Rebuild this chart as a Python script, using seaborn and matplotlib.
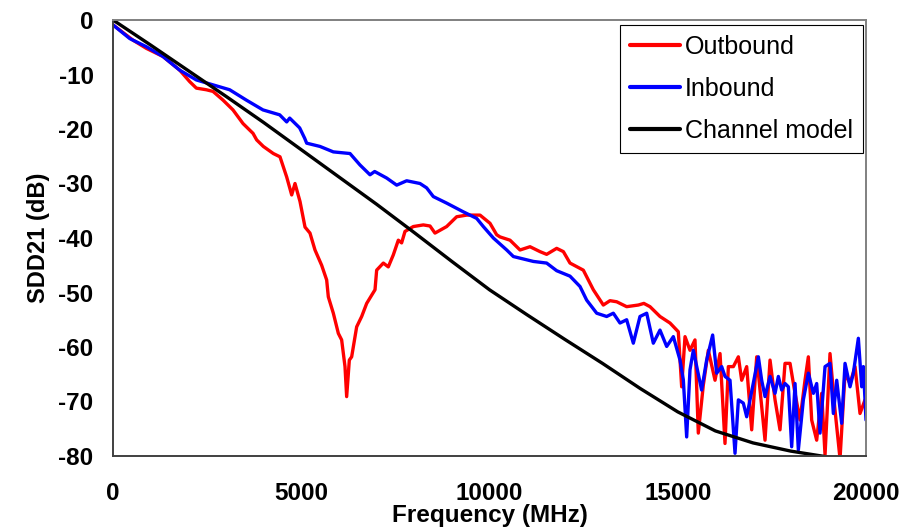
import numpy as np
import pandas as pd
import matplotlib
matplotlib.use("Agg")
import matplotlib.pyplot as plt
import seaborn as sns

# Measured differential insertion loss (SDD21) vs frequency
outbound_freq = [
    0, 531, 885, 1328, 1771, 2036, 2214, 2479, 2656, 2922, 3187, 3453, 3719,
    3816, 3993, 4258, 4435, 4613, 4746, 4834, 4967, 5100, 5232, 5365, 5542,
    5675, 5719, 5852, 5985, 6073, 6162, 6206, 6277, 6339, 6472, 6605, 6738,
    6870, 6959, 7003, 7180, 7312, 7445, 7578, 7666, 7755, 7976, 8242, 8420,
    8552, 8862, 9128, 9394, 9748, 10013, 10190, 10279, 10545, 10811, 11076,
    11341, 11518, 11784, 11962, 12138, 12492, 12758, 13023, 13200, 13378,
    13643, 13953, 14100, 14263, 14528, 14794, 15015, 15104, 15193, 15325,
    15458, 15546, 15679, 15812, 15990, 16123, 16255, 16344, 16477, 16610,
    16698, 16831, 16964, 17097, 17229, 17318, 17451, 17584, 17716, 17849,
    17982, 18115, 18247, 18380, 18469, 18557, 18690, 18823, 18912, 19044,
    19177, 19310, 19443, 19576, 19709, 19841, 19974,
]
outbound_db = [
    -0.9, -3.7, -5.2, -6.7, -9.2, -11.3, -12.5, -12.8, -13.1, -14.7, -16.5,
    -19.0, -20.8, -22.0, -23.2, -24.5, -25.1, -28.8, -32.1, -30.0, -33.3,
    -38.0, -39.1, -42.2, -45.0, -47.7, -50.8, -53.8, -57.5, -58.7, -63.6,
    -69.1, -62.4, -61.8, -56.3, -54.4, -52.0, -50.5, -49.5, -45.9, -44.6,
    -45.3, -43.1, -40.4, -40.9, -38.8, -37.9, -37.6, -37.8, -39.1, -37.9,
    -36.1, -35.8, -35.8, -37.3, -39.4, -39.8, -40.4, -42.2, -41.6, -42.5,
    -43.0, -41.9, -42.5, -44.6, -45.9, -49.5, -52.3, -51.5, -51.7, -52.6,
    -52.3, -52.0, -52.6, -54.4, -55.6, -57.2, -67.3, -58.1, -60.6, -58.7,
    -75.8, -67.0, -60.6, -66.1, -61.2, -77.7, -63.6, -63.6, -61.8, -66.1,
    -63.6, -75.2, -61.8, -70.9, -77.1, -62.4, -69.7, -75.2, -63.0, -63.0,
    -68.5, -73.4, -66.1, -61.8, -73.4, -77.1, -68.5, -79.8, -61.2, -71.6,
    -80.5, -64.8, -66.7, -63.6, -72.2, -69.7,
]

inbound_freq = [
    0, 443, 885, 1328, 1771, 2214, 2656, 3099, 3542, 3984, 4427, 4613, 4693,
    4958, 5091, 5144, 5498, 5852, 6295, 6560, 6826, 6950, 7269, 7535, 7800,
    8154, 8330, 8508, 8862, 9305, 9659, 9836, 10102, 10457, 10634, 10988,
    11165, 11518, 11784, 12138, 12404, 12581, 12847, 13112, 13289, 13466,
    13643, 13820, 13997, 14175, 14351, 14528, 14706, 14883, 15060, 15148,
    15237, 15325, 15414, 15634, 15768, 15927, 16034, 16167, 16255, 16388,
    16521, 16610, 16742, 16831, 17008, 17141, 17229, 17318, 17451, 17584,
    17672, 17761, 17849, 17938, 18026, 18115, 18203, 18336, 18469, 18602,
    18690, 18779, 18912, 19044, 19133, 19222, 19354, 19443, 19576, 19664,
    19797, 19886, 19930, 20000,
]
inbound_db = [
    -0.9, -3.4, -4.9, -6.7, -9.2, -11.0, -11.9, -12.8, -14.7, -16.5, -17.4,
    -18.7, -18.0, -19.8, -21.7, -22.6, -23.2, -24.2, -24.5, -26.6, -28.4,
    -27.8, -29.0, -30.3, -29.5, -30.0, -30.8, -32.4, -33.6, -35.2, -36.4,
    -37.9, -40.0, -42.2, -43.4, -44.0, -44.3, -44.6, -46.0, -47.0, -48.9,
    -51.4, -53.8, -54.4, -53.8, -55.6, -55.0, -59.3, -54.4, -53.8, -59.3,
    -56.9, -59.9, -58.1, -62.4, -66.0, -76.5, -64.2, -60.6, -67.9, -62.4,
    -57.8, -64.8, -63.6, -65.4, -66.1, -79.5, -69.7, -70.3, -72.8, -66.6,
    -61.8, -66.1, -69.1, -65.4, -68.5, -65.4, -67.9, -66.7, -67.3, -78.3,
    -66.7, -78.9, -69.7, -64.8, -68.5, -66.7, -75.8, -63.6, -63.0, -72.2,
    -66.1, -74.0, -63.0, -67.3, -64.8, -58.4, -67.3, -63.6, -73.4,
]

model_freq = [0, 1000, 2000, 3000, 4000, 5000, 6000, 7000, 8000, 9000, 10000,
              11000, 12000, 13000, 14000, 15000, 16000, 17000, 18000, 19000,
              20000]
model_db = [0.0, -4.6, -9.3, -14.0, -18.8, -23.8, -28.8, -33.8, -39.0, -44.3,
            -49.5, -54.1, -58.6, -63.0, -67.6, -71.9, -75.4, -77.6, -79.1,
            -80.2, -81.0]

series_names = ["Outbound", "Inbound", "Channel model"]
series_colors = ["#FF0000", "#0000FF", "#000000"]

df = pd.concat([
    pd.DataFrame({"freq": outbound_freq, "db": outbound_db, "trace": series_names[0]}),
    pd.DataFrame({"freq": inbound_freq, "db": inbound_db, "trace": series_names[1]}),
    pd.DataFrame({"freq": model_freq, "db": model_db, "trace": series_names[2]}),
], ignore_index=True)

sns.set_theme(style="white")
plt.rcParams["font.family"] = ["Liberation Sans", "DejaVu Sans"]
plt.rcParams["axes.unicode_minus"] = False
plt.rcParams["text.color"] = "black"
plt.rcParams["axes.labelcolor"] = "black"
plt.rcParams["xtick.color"] = "black"
plt.rcParams["ytick.color"] = "black"

fig = plt.figure(figsize=(9.13, 5.32), dpi=100)
ax = fig.add_axes([113 / 913, 1 - 456 / 532, 753 / 913, 436 / 532])

sns.lineplot(data=df, x="freq", y="db", hue="trace", hue_order=series_names,
             palette=series_colors, estimator=None, sort=False,
             linewidth=2.4, ax=ax)

ax.set_xlim(0, 20000)
ax.set_ylim(-80, 0)
ax.set_xticks([0, 5000, 10000, 15000, 20000])
ax.set_yticks(np.arange(-80, 1, 10))

ax.set_xlabel("Frequency (MHz)", fontsize=17.5, fontweight="bold", labelpad=-1)
ax.set_ylabel("SDD21 (dB)", fontsize=17, fontweight="bold", labelpad=6)
ax.tick_params(axis="both", which="major", direction="out", length=7,
               width=1.2, color="#404040", labelcolor="black", labelsize=17.5)
ax.tick_params(axis="x", pad=12)
ax.tick_params(axis="y", pad=7)
for lab in ax.get_xticklabels() + ax.get_yticklabels():
    lab.set_fontweight("bold")

for side in ["left", "bottom"]:
    ax.spines[side].set_color("#404040")
    ax.spines[side].set_linewidth(1.4)
for side in ["top", "right"]:
    ax.spines[side].set_color("#808080")
    ax.spines[side].set_linewidth(1.4)

leg = ax.legend(loc="upper right", bbox_to_anchor=(0.996, 0.9885),
                borderaxespad=0, fontsize=18, frameon=True, fancybox=False,
                edgecolor="#000000", framealpha=1, handlelength=2.0,
                handletextpad=0.2, labelspacing=0.72, borderpad=0.4)
leg.get_frame().set_linewidth(0.8)
for line in leg.get_lines():
    line.set_linewidth(3)

fig.savefig("out.png", dpi=100, facecolor="white")
